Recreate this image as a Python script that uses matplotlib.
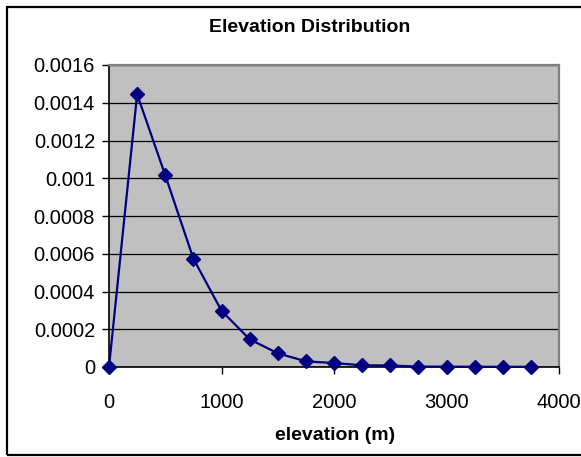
import matplotlib
matplotlib.use("Agg")
import matplotlib.pyplot as plt
from matplotlib.patches import Rectangle

plt.rcParams['font.family'] = ['Liberation Sans', 'DejaVu Sans']

# elevation bins (m) and density values
elevation = [0, 250, 500, 750, 1000, 1250, 1500, 1750, 2000, 2250,
             2500, 2750, 3000, 3250, 3500, 3750]
density = [0.0, 0.001445, 0.001016, 0.000574, 0.000298, 0.000147,
           0.0000726, 0.000030, 0.000021, 0.000009, 0.000008,
           0.000002, 0.000002, 0.000001, 0.000001, 0.000001]

x_ticks = [0, 1000, 2000, 3000, 4000]
x_tick_labels = ['0', '1000', '2000', '3000', '4000']
y_ticks = [0, 0.0002, 0.0004, 0.0006, 0.0008, 0.001, 0.0012, 0.0014, 0.0016]
y_tick_labels = ['0', '0.0002', '0.0004', '0.0006', '0.0008', '0.001',
                 '0.0012', '0.0014', '0.0016']

W, H = 581, 457
fig = plt.figure(figsize=(W / 100, H / 100), dpi=100)
fig.patch.set_facecolor('white')

left, right, top, bottom = 109, 559, 65, 367
ax = fig.add_axes([left / W, 1 - bottom / H, (right - left) / W, (bottom - top) / H])
ax.set_facecolor('#C0C0C0')

ax.plot(elevation, density, color='#000080', lw=1.6, marker='D',
        markersize=7, markerfacecolor='#000080', markeredgecolor='#000080',
        clip_on=False, zorder=3)

ax.set_xlim(0, 4000)
ax.set_ylim(0, 0.0016)
ax.set_xticks(x_ticks)
ax.set_xticklabels(x_tick_labels)
ax.set_yticks(y_ticks)
ax.set_yticklabels(y_tick_labels)

ax.grid(axis='y', color='black', lw=0.9, zorder=1)
ax.set_axisbelow(True)

ax.tick_params(axis='both', direction='out', colors='black', labelsize=14.5,
               width=1, length=5)
ax.tick_params(axis='x', pad=14)
ax.tick_params(axis='y', pad=5)

for side in ('left', 'bottom'):
    ax.spines[side].set_color('black')
    ax.spines[side].set_linewidth(1.2)
for side in ('top', 'right'):
    ax.spines[side].set_color('#808080')
    ax.spines[side].set_linewidth(1.6)

fig.text(310 / W, 1 - 27 / H, 'Elevation Distribution', ha='center',
         va='center', fontsize=14, fontweight='bold')
fig.text(335 / W, 1 - 436 / H, 'elevation (m)', ha='center', va='center',
         fontsize=14, fontweight='bold')

# chart border
fig.add_artist(Rectangle((7 / W, 1 - 455 / H), (620 - 7) / W, (455 - 7) / H,
                         transform=fig.transFigure, fill=False,
                         edgecolor='black', lw=1.6))

fig.savefig('out.png', dpi=100)
